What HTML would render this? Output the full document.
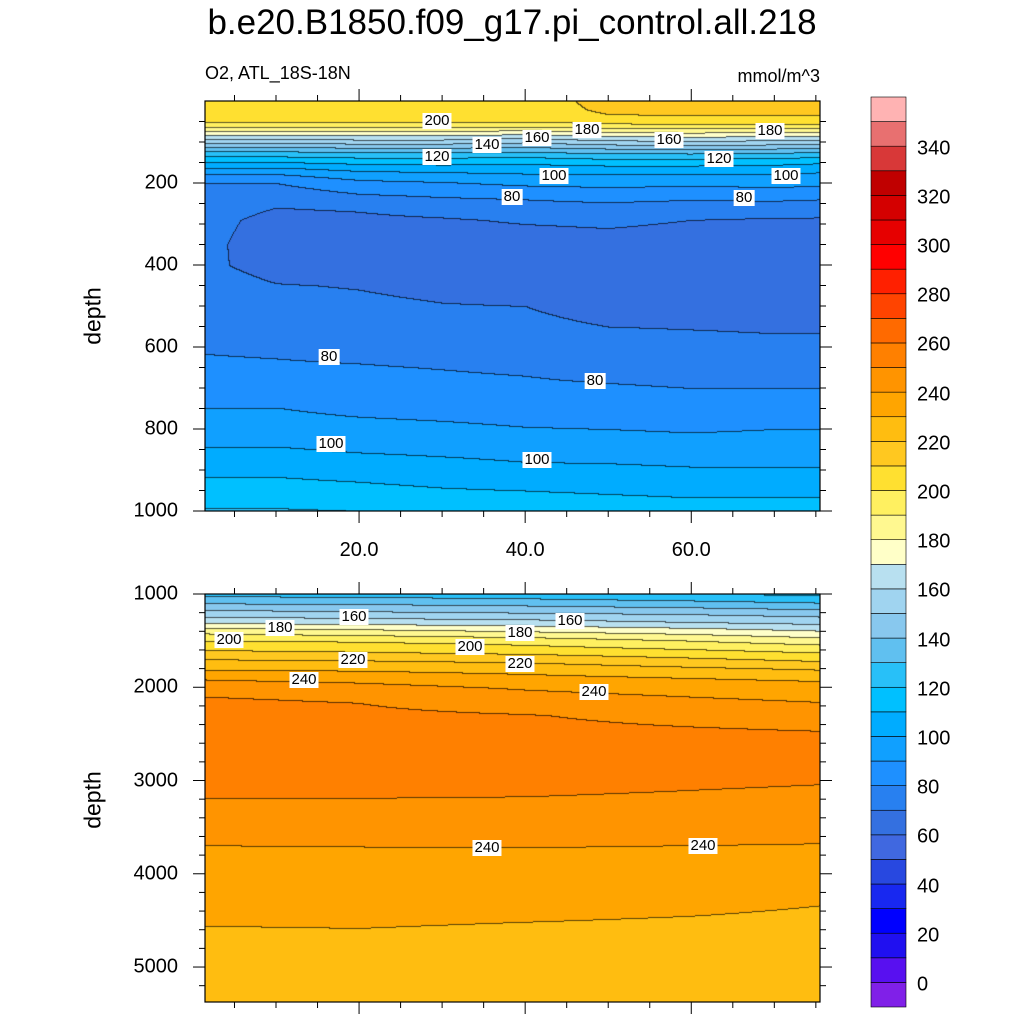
<!DOCTYPE html>
<html><head><meta charset="utf-8">
<style>
html,body{margin:0;padding:0;background:#fff;}
body{width:1024px;height:1024px;position:relative;overflow:hidden;font-family:"Liberation Sans",sans-serif;color:#000;}
.abs{position:absolute;}
canvas{position:absolute;}
.lbl{position:absolute;background:#fff;font-size:15px;line-height:16px;padding:0 2px;transform:translate(-50%,-50%);white-space:nowrap;}
.yt{position:absolute;font-size:20px;right:846px;transform:translateY(-50%);}
.xt{position:absolute;font-size:20px;transform:translateX(-50%);}
.cbt{position:absolute;font-size:20px;left:917px;transform:translateY(-50%);}
</style></head><body>
<div class="abs" style="left:0;width:1024px;top:3px;text-align:center;font-size:35px;">b.e20.B1850.f09_g17.pi_control.all.218</div>
<div class="abs" style="left:205px;top:63px;font-size:18px;">O2, ATL_18S-18N</div>
<div class="abs" style="right:204px;top:66px;font-size:18px;">mmol/m^3</div>
<div class="abs" style="left:93px;top:316px;font-size:23px;transform:translate(-50%,-50%) rotate(-90deg);">depth</div>
<div class="abs" style="left:93px;top:800px;font-size:23px;transform:translate(-50%,-50%) rotate(-90deg);">depth</div>
<canvas id="c1" width="615" height="410" style="left:205px;top:101px;"></canvas>
<canvas id="c2" width="615" height="408" style="left:205px;top:594px;"></canvas>
<svg id="ax" class="abs" width="1024" height="1024" style="left:0;top:0;"></svg>
<div id="labels"></div>
<script>
// ---- data ----
const colors = ["#8020e8","#5810f0","#2010f0","#0000ff","#1828f0","#2848e0","#4068e0","#3470e0","#2880f0","#1e90ff","#10a0ff","#00acff","#00c0ff","#28c0f8","#60c0f0","#88c8ee","#a0d4f0","#b8e0f0","#ffffc8","#fff890","#fff060","#ffe030","#ffc820","#ffbd10","#ffa500","#ff9400","#ff8000","#ff6a00","#ff4400","#ff2000","#ff0000","#e60000","#d40000","#c00000","#d83838","#e87070","#ffb3b3"];
const cbLabels = [0,20,40,60,80,100,120,140,160,180,200,220,240,260,280,300,320,340];
const topX = [1.5,10,20,30,40,50,60,70,75.5];
const topDepth = [0,20,40,50,60,70,80,90,100,110,120,135,150,165,180,200,230,260,290,350,400,450,500,550,600,650,700,750,800,850,900,950,1000];
const topVals = [
[208,206,206,206,207,212,212,212,212],
[206,205,205,205,206,211.5,211.5,211.5,211.5],
[204,204,204,204,205,209,209.5,209.5,209.5],
[201,201,201,201,200,203,205,205,204],
[193,193,194,194,193,196,197,197,196],
[182,182,184,184,181,186,187,186,185],
[172,172,174,174,171,176,177,176,175],
[163,163,164,164,160,166,167,166,165],
[152,152,154,154,151,156,157,156,154],
[142,142,144,144,142,146,147,146,144],
[132,132,134,134,133,136,137,136,133],
[120,120,122,122,121,124,124,123,121],
[110,109,112,113,112,114,114,113,111],
[99,98,103,104,104,106,106,105,103],
[89,89,95,97,99,99,99,99,98],
[80,80,87,89,92,93,92,93,92],
[77,74,79,81,82,84,83,84,83],
[75,70,71,74,76,77,75,75,74],
[73,67,68,69,71,72,70,69,69],
[72,65.5,65,65,65,66,65,65,65],
[72,66,65,64,64,64,64,64,64],
[75,70.5,69.5,67.5,66,65,65,65,65],
[77,73,72,70.5,70,67,66,66,66],
[79,76,75,74,72,70,69.5,69,69],
[79.5,79,78,77,75.5,74,73,72,72],
[81,80.8,80.5,79.8,79,77,76,75,75],
[84,84,83,82,81.5,81,80,80,80],
[90,90.2,88,87,86,85,84,83,83],
[94,94,93,92,90.5,90,89,90,90],
[101,101,99,98,97,96,95,95,95],
[108,108,106,104,102,102,101,101,101],
[114,114,113,111,110,109,108,108,108],
[121,121,120,118,116,115,114,114,114]];
const botX = [1.5,20,40,60,75.5];
const botDepth = [1000,1100,1200,1300,1400,1500,1600,1700,1800,1900,2000,2100,2300,2500,2800,3100,3400,3700,4000,4300,4600,5000,5375];
const botVals = [
[127,126,124,121,118],
[140,139,137,134,131],
[154,152,150,148,145],
[168,166,164,160,157],
[187,184,180,176,171],
[200,199,196,190,185],
[210,208,205,201,197],
[220,219,217,212,208],
[229,228,226,222,219],
[239,237,233,230,228],
[245,243,239,236,234],
[250,249,243,240,238],
[253,252,250.5,247,245],
[255,255,253,252,251],
[257,257,256,255,254],
[252,252,251.5,250,249],
[245,245,245,244.5,244],
[239.9,240.1,240.2,239.9,239.6],
[236,236,236.5,236.5,236],
[233,233,232.5,231.5,230.3],
[229.5,229.8,229,228.5,228],
[227,227,226.5,226,225.5],
[225,225,225,224.5,224]];
const topLabelText = ["200","180","160","140","160","180","120","120","100","100","80","80","80","80","100","100"];
const botLabelText = ["160","180","200","160","180","200","220","220","240","240","240","240"];
// ---- axes ----
const X0=1.45, X1=75.5;
const P1={l:205,r:820,t:101,b:511,d0:0,d1:1000};
const P2={l:205,r:820,t:594,b:1002,d0:1000,d1:5375};
function sx(p,x){return p.l+(x-X0)/(X1-X0)*(p.r-p.l);}
function sy(p,d){return p.t+(d-p.d0)/(p.d1-p.d0)*(p.b-p.t);}
function inv(p,py){return p.d0+py/(p.b-p.t)*(p.d1-p.d0);}
function findI(arr,v){let i=0;while(i<arr.length-2&&arr[i+1]<v)i++;return i;}
function val(xs,ds,vs,x,d){
  const i=findI(xs,x),j=findI(ds,d);
  let tx=(x-xs[i])/(xs[i+1]-xs[i]),ty=(d-ds[j])/(ds[j+1]-ds[j]);
  tx=Math.max(0,Math.min(1,tx));ty=Math.max(0,Math.min(1,ty));
  const a=vs[j][i],b=vs[j][i+1],c=vs[j+1][i],e=vs[j+1][i+1];
  return (a*(1-tx)+b*tx)*(1-ty)+(c*(1-tx)+e*tx)*ty;
}
function lev(v){return Math.max(0,Math.min(colors.length-1,Math.floor(v/10)+1));}
function hex(h){return [parseInt(h.substr(1,2),16),parseInt(h.substr(3,2),16),parseInt(h.substr(5,2),16)];}
const rgb=colors.map(hex);
function draw(id,p,xs,ds,vs){
  const cv=document.getElementById(id),ctx=cv.getContext('2d');
  const W=cv.width,H=cv.height,img=ctx.createImageData(W,H);
  const L=new Int16Array(W*H);
  for(let py=0;py<H;py++){const d=inv(p,py+0.5);
    for(let px=0;px<W;px++){const x=X0+(px+0.5)/W*(X1-X0);L[py*W+px]=lev(val(xs,ds,vs,x,d));}}
  for(let k=0;k<W*H;k++){const px=k%W,py=(k/W)|0;let c=rgb[L[k]];let edge=false;
    if(px>0&&L[k-1]!==L[k])edge=true; if(py>0&&L[k-W]!==L[k])edge=true;
    let f=edge?0.35:1;
    img.data[k*4]=c[0]*f;img.data[k*4+1]=c[1]*f;img.data[k*4+2]=c[2]*f;img.data[k*4+3]=255;}
  ctx.putImageData(img,0,0);
}
draw('c1',P1,topX,topDepth,topVals);
draw('c2',P2,botX,botDepth,botVals);
const NS="http://www.w3.org/2000/svg",svg=document.getElementById('ax');
function ln(x1,y1,x2,y2,w,name){const e=document.createElementNS(NS,'line');
  e.setAttribute('x1',x1);e.setAttribute('y1',y1);e.setAttribute('x2',x2);e.setAttribute('y2',y2);
  e.setAttribute('stroke','#000');e.setAttribute('stroke-width',w);
  
  
  svg.appendChild(e);}
function frame(p,name){const r=document.createElementNS(NS,'rect');
  r.setAttribute('x',p.l);r.setAttribute('y',p.t);r.setAttribute('width',p.r-p.l);r.setAttribute('height',p.b-p.t);
  r.setAttribute('fill','none');r.setAttribute('stroke','#000');r.setAttribute('stroke-width',1.2);
  
  
  svg.appendChild(r);}
const body=document.body;
function txt(cls,name,s,styl){const e=document.createElement('div');e.className=cls;e.textContent=s;e.style.cssText+=styl;
  
  
  body.appendChild(e);}
function axes(p,tag,majStep,minStep,xlabels){
  frame(p,tag+'-frame');
  for(let x=5;x<=X1;x+=5){const X=sx(p,x),maj=x%20===0,len=maj?12:6;
    ln(X,p.b,X,p.b+len,1,tag+'-x-tick');ln(X,p.t,X,p.t-len,1,tag+'-x-tick-top');
    if(maj&&xlabels)txt('xt',tag+'-x-tick-label',x.toFixed(1),'left:'+X+'px;top:'+(p.b+28)+'px;');}
  for(let d=Math.ceil(p.d0/minStep)*minStep;d<=p.d1;d+=minStep){const Y=sy(p,d),maj=d%majStep===0,len=maj?12:6;
    if(d===p.d0&&p.d0===0)continue;
    ln(p.l,Y,p.l-len,Y,1,tag+'-y-tick');ln(p.r,Y,p.r+len,Y,1,tag+'-y-tick-right');
    if(maj)txt('yt',tag+'-y-tick-label',String(d),'top:'+Y+'px;');}
}
axes(P1,'top',200,50,true);
axes(P2,'bottom',1000,200,false);
// colorbar
const cbT=97,cbB=1007,cbL=871,cbW=35,bh=(cbB-cbT)/colors.length;
for(let i=0;i<colors.length;i++){const r=document.createElementNS(NS,'rect');
  r.setAttribute('x',cbL);r.setAttribute('y',cbB-(i+1)*bh);r.setAttribute('width',cbW);r.setAttribute('height',bh);
  r.setAttribute('fill',colors[i]);r.setAttribute('stroke','#000');r.setAttribute('stroke-width',0.6);
  
  
  svg.appendChild(r);}
cbLabels.forEach(v=>{const Y=cbB-(v/10+1)*bh+2.5;txt('cbt','colorbar-label',String(v),'top:'+Y+'px;');});
// contour labels
const topLP=[[437,121],[587,130],[537,138],[487,145],[669,140],[770,131],[437,157],[719,159],[554,176],[786,176],[512,197],[744,198],[329,357],[595,381],[331,444],[537,460]];
const botLP=[[354,617],[280,628],[229,640],[570,621],[520,633],[470,647],[353,660],[520,664],[304,680],[594,692],[487,848],[703,846]];
function clabels(t,pos,name){t.forEach((s,i)=>txt('lbl',name,s,'left:'+pos[i][0]+'px;top:'+pos[i][1]+'px;'));}
clabels(topLabelText,topLP,'top-contour-label');
clabels(botLabelText,botLP,'bottom-contour-label');
</script>
</body></html>
